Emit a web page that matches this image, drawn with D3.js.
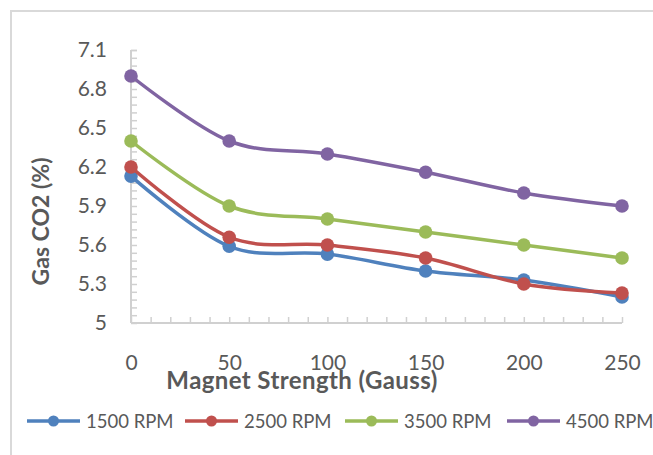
<!DOCTYPE html>
<html>
<head>
<meta charset="utf-8">
<script src="https://cdn.jsdelivr.net/npm/d3@7"></script>
<style>
  html, body { margin: 0; padding: 0; background: #fff; }
  svg { display: block; }
  text { font-family: Lato, "Open Sans", sans-serif; fill: #595959; }
</style>
</head>
<body>
<svg id="chart" width="653" height="455"></svg>
<script>
// ---- data ----
const magnetStrength = [0, 50, 100, 150, 200, 250];
const rpm1500 = [6.13, 5.59, 5.53, 5.40, 5.33, 5.20];
const rpm2500 = [6.20, 5.66, 5.60, 5.50, 5.30, 5.23];
const rpm3500 = [6.40, 5.90, 5.80, 5.70, 5.60, 5.50];
const rpm4500 = [6.90, 6.40, 6.30, 6.16, 6.00, 5.90];
const seriesNames = ["1500 RPM", "2500 RPM", "3500 RPM", "4500 RPM"];
const seriesColors = ["#4F81BD", "#C0504D", "#9BBB59", "#8064A2"];
const yTickLabels = [5, 5.3, 5.6, 5.9, 6.2, 6.5, 6.8, 7.1];
const xTickLabels = [0, 50, 100, 150, 200, 250];
const xTitle = "Magnet Strength (Gauss)";
const yTitle = "Gas CO2 (%)";

const seriesValues = [rpm1500, rpm2500, rpm3500, rpm4500];
const series = seriesNames.map((name, i) => ({
  name, color: seriesColors[i],
  points: magnetStrength.map((x, j) => ({ x, y: seriesValues[i][j] }))
}));

const svg = d3.select("#chart");
svg.append("rect").attr("x", 0).attr("y", 0).attr("width", 653).attr("height", 455).attr("fill", "#fff");
// chart area border
svg.append("rect").attr("x", 11).attr("y", 11).attr("width", 800).attr("height", 600)
  .attr("fill", "none").attr("stroke", "#d9d9d9").attr("stroke-width", 2);

const x = d3.scaleLinear().domain([0, 250]).range([131, 622]);
const y = d3.scaleLinear().domain([5, 7.1]).range([323, 50]);

const axisColor = "#d0d0d0";

// y minor ticks (inside)
const yMinor = d3.range(0, 36).map(i => 5 + i * 0.06).concat([7.1]);
const gyMinor = svg.append("g").attr("transform", `translate(${x(0)},0)`)
  .call(d3.axisLeft(y).tickValues(yMinor).tickSize(-6).tickFormat(""));
// y labels
const gy = svg.append("g").attr("transform", `translate(${x(0)},0)`)
  .call(d3.axisLeft(y).tickValues(yTickLabels).tickSize(0).tickPadding(24).tickFormat(d => String(d)));
gy.select(".domain").remove();
gy.selectAll("text").style("font-size", "21px").attr("fill", "#595959");

// x minor ticks (inside)
const xMinor = d3.range(0, 26).map(i => i * 10);
const gxMinor = svg.append("g").attr("transform", `translate(0,${y(5)})`)
  .call(d3.axisBottom(x).tickValues(xMinor).tickSize(-6).tickFormat(""));
const gx = svg.append("g").attr("transform", `translate(0,${y(5)})`)
  .call(d3.axisBottom(x).tickValues(xTickLabels).tickSize(0).tickPadding(32).tickFormat(d => String(d)));
gx.select(".domain").remove();
gx.selectAll("text").style("font-size", "21px").attr("fill", "#595959");

[gyMinor, gxMinor].forEach(g => {
  g.selectAll(".domain").attr("stroke", axisColor).attr("stroke-width", 2);
  g.selectAll(".tick line").attr("stroke", axisColor).attr("stroke-width", 1.5);
});
gyMinor.select(".domain").attr("d", `M0,${y(7.1)}V${y(5)}`);
gxMinor.select(".domain").attr("d", `M${x(0)},0H${x(250)}`);

// titles
svg.append("text").attr("x", 302).attr("y", 389).attr("text-anchor", "middle")
  .style("font-size", "24px").style("font-weight", "bold").style("letter-spacing", "0.4px").text(xTitle);
svg.append("text").attr("transform", "translate(49,221.5) rotate(-90)").attr("text-anchor", "middle")
  .style("font-size", "23px").style("font-weight", "bold").text(yTitle);

// lines
const line = d3.line().x(d => x(d.x)).y(d => y(d.y)).curve(d3.curveCatmullRom.alpha(0));
const gs = svg.selectAll(".series").data(series).join("g").attr("class", "series");
gs.append("path").attr("d", d => line(d.points)).attr("fill", "none")
  .attr("stroke", d => d.color).attr("stroke-width", 3.5).attr("stroke-linejoin", "round");
gs.selectAll("circle").data(d => d.points.map(p => ({ ...p, color: d.color }))).join("circle")
  .attr("cx", d => x(d.x)).attr("cy", d => y(d.y)).attr("r", 6.8).attr("fill", d => d.color);

// legend
const legY = 421;
const legendStarts = [27, 185, 345, 507];
series.forEach((s, i) => {
  const lx = legendStarts[i];
  const g = svg.append("g");
  g.append("line").attr("x1", lx).attr("x2", lx + 53).attr("y1", legY).attr("y2", legY)
    .attr("stroke", s.color).attr("stroke-width", 3.5);
  g.append("circle").attr("cx", lx + 26.5).attr("cy", legY).attr("r", 5.5).attr("fill", s.color);
  g.append("text").attr("x", lx + 59).attr("y", 427.5).style("font-size", "18.5px").text(s.name);
});
</script>
</body>
</html>
